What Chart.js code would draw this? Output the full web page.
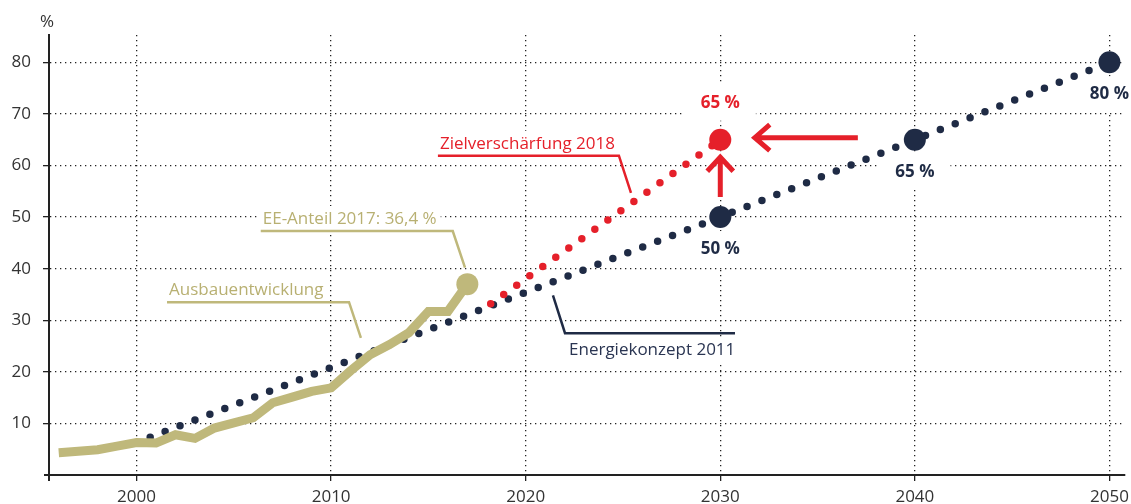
<!DOCTYPE html>
<html>
<head>
<meta charset="utf-8">
<script src="https://cdn.jsdelivr.net/npm/chart.js@4.4.0/dist/chart.umd.min.js"></script>
<style>
  html, body { margin: 0; padding: 0; background: #fff; }
  canvas { display: block; }
</style>
</head>
<body>
<canvas id="ee-chart" width="1131" height="504"></canvas>
<script>
// Anteil erneuerbarer Energien am Bruttostromverbrauch (%)
const istJahre = [1996, 1997, 1998, 1999, 2000, 2001, 2002, 2003, 2004, 2005, 2006,
                  2007, 2008, 2009, 2010, 2011, 2012, 2013, 2014, 2015, 2016, 2017];
const istWerte = [4.3, 4.6, 4.9, 5.6, 6.3, 6.2, 7.8, 7.1, 9.1, 10.1, 11.1,
                  14.0, 15.1, 16.2, 16.9, 20.2, 23.3, 25.3, 27.6, 31.7, 31.7, 37.0];

// Energiekonzept 2011
const ziel2011Jahre = [2000.7, 2030, 2040, 2050];
const ziel2011Werte = [7.3, 50, 65, 80];
const ziel2011Marken = [2030, 2040, 2050];
const ziel2011MarkenWerte = [50, 65, 80];

// Zielverschärfung 2018
const ziel2018Jahre = [2018.2, 2030];
const ziel2018Werte = [33.2, 65];

const xTicks = [2000, 2010, 2020, 2030, 2040, 2050];
const yTicks = [10, 20, 30, 40, 50, 60, 70, 80];

const KHAKI = '#bfb87b';
const KHAKI_TEXT = '#b8b072';
const RED = '#e5202a';
const NAVY = '#1f2b45';
const FONT = '"Open Sans", "Noto Sans", sans-serif';

const toPoints = (xs, ys) => xs.map((x, i) => ({ x: x, y: ys[i] }));

// Beschriftungen mit Führungslinien (Position in Datenkoordinaten)
const callouts = [
    { text: 'EE-Anteil 2017: 36,4 %', color: KHAKI, textColor: KHAKI_TEXT, tip: [2016.88, 40.2], elbow: [2016.25, 47.3], run: -192 },
    { text: 'Ausbauentwicklung', color: KHAKI, textColor: KHAKI_TEXT, tip: [2011.53, 26.6], elbow: [2010.92, 33.5], run: -182 },
    { text: 'Zielverschärfung 2018', color: RED, textColor: RED, tip: [2025.41, 54.7], elbow: [2024.79, 61.9], run: -181 },
    { text: 'Energiekonzept 2011', color: NAVY, textColor: '#2a3552', tip: [2021.40, 34.8], elbow: [2022.02, 27.5], run: 170 }
];

// Wertelabels an den großen Punkten
function valueLabels() {
    const list = ziel2011Marken.map((x, i) => ({ x: x, y: ziel2011MarkenWerte[i], dy: 32, color: NAVY }));
    list.push({ x: ziel2018Jahre[1], y: ziel2018Werte[1], dy: -37, color: RED });
    return list;
}

function calloutLayout(chart, c) {
    const sx = chart.scales.x, sy = chart.scales.y;
    const ex = sx.getPixelForValue(c.elbow[0]);
    const ey = sy.getPixelForValue(c.elbow[1]);
    const tx = sx.getPixelForValue(c.tip[0]);
    const ty = sy.getPixelForValue(c.tip[1]);
    const lx = ex + c.run;
    const textX = c.run < 0 ? lx + 2 : ex + 4;
    const textY = c.run < 0 ? ey - 12 : ey + 17;
    return { ex, ey, tx, ty, lx, textX, textY };
}

const annotationPlugin = {
    id: 'annotations',
    beforeDatasetsDraw(chart) {
        const ctx = chart.ctx;
        const sx = chart.scales.x, sy = chart.scales.y;
        ctx.save();
        ctx.fillStyle = '#fff';
        // weiße Flächen hinter den Texten
        ctx.font = '17px ' + FONT;
        callouts.forEach(c => {
            const p = calloutLayout(chart, c);
            const w = ctx.measureText(c.text).width;
            ctx.fillRect(p.textX - 4, p.textY - 13, w + 8, 26);
        });
        ctx.font = 'bold 17px ' + FONT;
        valueLabels().forEach(l => {
            const x = sx.getPixelForValue(l.x);
            const y = sy.getPixelForValue(l.y) + l.dy;
            const w = ctx.measureText(`${l.y} %`).width;
            ctx.fillRect(x - w / 2 - 16, y - 18, w + 32, 36);
        });
        ctx.restore();
    },
    afterDatasetsDraw(chart) {
        const ctx = chart.ctx;
        const sx = chart.scales.x, sy = chart.scales.y;
        const area = chart.chartArea;
        ctx.save();

        // Achsenverlängerungen
        ctx.strokeStyle = '#222';
        ctx.lineWidth = 2;
        ctx.beginPath();
        ctx.moveTo(area.left - 5, area.bottom);
        ctx.lineTo(area.left, area.bottom);
        ctx.moveTo(area.left, area.bottom);
        ctx.lineTo(area.left, area.bottom + 6);
        ctx.stroke();

        // Führungslinien und Texte
        ctx.lineWidth = 2.5;
        ctx.lineJoin = 'miter';
        ctx.textBaseline = 'middle';
        ctx.textAlign = 'left';
        ctx.font = '17px ' + FONT;
        callouts.forEach(c => {
            const p = calloutLayout(chart, c);
            ctx.strokeStyle = c.color;
            ctx.beginPath();
            ctx.moveTo(p.lx, p.ey);
            ctx.lineTo(p.ex, p.ey);
            ctx.lineTo(p.tx, p.ty);
            ctx.stroke();
            ctx.fillStyle = c.textColor;
            ctx.fillText(c.text, p.textX, p.textY);
        });

        // Wertelabels
        ctx.font = 'bold 17px ' + FONT;
        ctx.textAlign = 'center';
        valueLabels().forEach(l => {
            ctx.fillStyle = l.color;
            ctx.fillText(`${l.y} %`, sx.getPixelForValue(l.x), sy.getPixelForValue(l.y) + l.dy);
        });

        // Pfeile (Zielverschärfung)
        ctx.strokeStyle = RED;
        ctx.lineWidth = 5;
        ctx.lineCap = 'butt';
        const ax = sx.getPixelForValue(2030);
        const aTop = sy.getPixelForValue(62.0);
        const aBottom = sy.getPixelForValue(53.9);
        ctx.beginPath();
        ctx.moveTo(ax, aBottom);
        ctx.lineTo(ax, aTop + 2);
        ctx.moveTo(ax - 13, aTop + 16);
        ctx.lineTo(ax, aTop + 2);
        ctx.lineTo(ax + 13, aTop + 16);
        ctx.stroke();

        const hy = sy.getPixelForValue(65.4);
        const hTip = sx.getPixelForValue(2031.67);
        const hTail = sx.getPixelForValue(2037.07);
        ctx.beginPath();
        ctx.moveTo(hTail, hy);
        ctx.lineTo(hTip + 2, hy);
        ctx.moveTo(hTip + 17, hy - 13);
        ctx.lineTo(hTip + 2, hy);
        ctx.lineTo(hTip + 17, hy + 13);
        ctx.stroke();

        // Einheit
        ctx.fillStyle = '#333';
        ctx.font = '17px ' + FONT;
        ctx.textAlign = 'center';
        ctx.fillText('%', area.left - 2, 22);
        ctx.restore();
    }
};

const ctx = document.getElementById('ee-chart').getContext('2d');

window.eeChart = new Chart(ctx, {
    type: 'line',
    data: {
        datasets: [
            {
                // Endpunkt 2017
                data: toPoints([istJahre[istJahre.length - 1]], [istWerte[istWerte.length - 1]]),
                showLine: false,
                pointRadius: 11,
                pointBackgroundColor: KHAKI,
                pointBorderWidth: 0
            },
            {
                label: 'Ausbauentwicklung',
                data: toPoints(istJahre, istWerte),
                borderColor: KHAKI,
                borderWidth: 9,
                borderJoinStyle: 'miter',
                borderCapStyle: 'butt',
                pointRadius: 0,
                tension: 0
            },
            {
                data: toPoints([ziel2018Jahre[1]], [ziel2018Werte[1]]),
                showLine: false,
                pointRadius: 11,
                pointBackgroundColor: RED,
                pointBorderWidth: 0
            },
            {
                label: 'Zielverschärfung 2018',
                data: toPoints(ziel2018Jahre, ziel2018Werte),
                borderColor: RED,
                borderWidth: 7.5,
                borderDash: [0, 16],
                borderCapStyle: 'round',
                pointRadius: 0,
                tension: 0
            },
            {
                data: toPoints(ziel2011Marken, ziel2011MarkenWerte),
                showLine: false,
                pointRadius: 11,
                pointBackgroundColor: NAVY,
                pointBorderWidth: 0
            },
            {
                label: 'Energiekonzept 2011',
                data: toPoints(ziel2011Jahre, ziel2011Werte),
                borderColor: NAVY,
                borderWidth: 7.5,
                borderDash: [0, 16],
                borderCapStyle: 'round',
                pointRadius: 0,
                tension: 0
            }
        ]
    },
    options: {
        responsive: false,
        animation: false,
        events: [],
        layout: { autoPadding: false, padding: { top: 35, right: 6, left: 0, bottom: 0 } },
        plugins: {
            legend: { display: false },
            tooltip: { enabled: false }
        },
        scales: {
            x: {
                type: 'linear',
                min: 1995.5,
                max: 2050.8,
                afterBuildTicks: scale => { scale.ticks = xTicks.map(v => ({ value: v })); },
                afterFit: scale => {
                    scale.height = 29;
                    scale.paddingLeft = 0;
                    scale.paddingRight = 0;
                },
                grid: { color: '#222', lineWidth: 1.3, tickLength: 6 },
                border: { display: true, color: '#222', width: 2, dash: [1.3, 3.7] },
                ticks: {
                    color: '#333',
                    font: { family: FONT, size: 17 },
                    padding: 6,
                    autoSkip: false,
                    maxRotation: 0,
                    callback: v => String(v)
                }
            },
            y: {
                min: 0,
                max: 85.3,
                afterBuildTicks: scale => { scale.ticks = yTicks.map(v => ({ value: v })); },
                afterFit: scale => {
                    scale.width = 49;
                    scale.paddingTop = 0;
                    scale.paddingBottom = 0;
                },
                grid: { color: '#222', lineWidth: 1.3, tickLength: 6 },
                border: { display: true, color: '#222', width: 2, dash: [1.3, 3.7] },
                ticks: {
                    color: '#333',
                    font: { family: FONT, size: 17 },
                    padding: 12,
                    autoSkip: false,
                    callback: v => String(v)
                }
            }
        }
    },
    plugins: [annotationPlugin]
});
</script>
</body>
</html>
